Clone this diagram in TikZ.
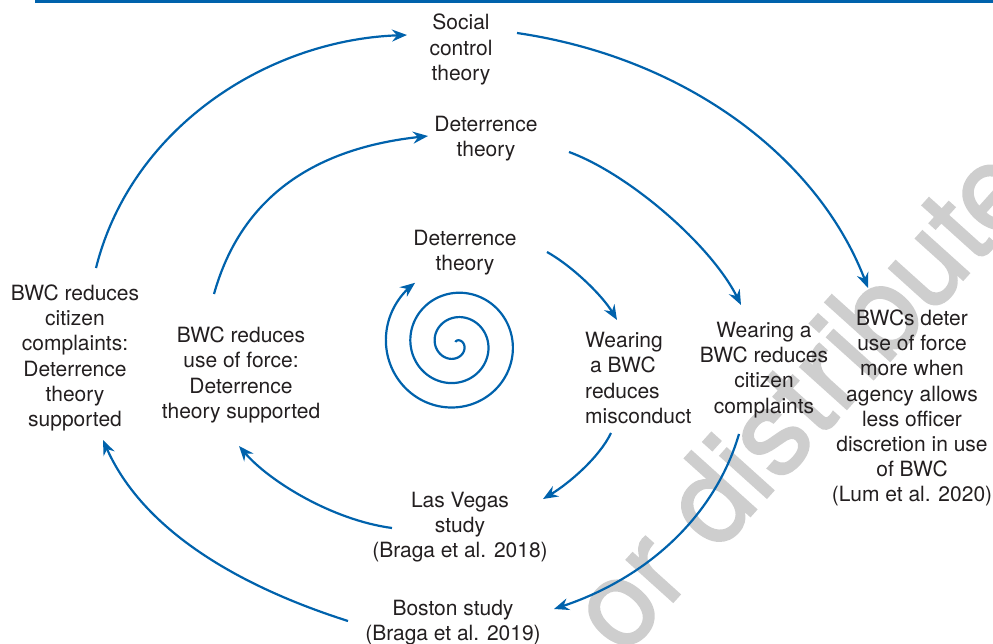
\documentclass[tikz,border=0pt]{standalone}
\usepackage{fontspec}
\setmainfont{TeX Gyre Heros}
\newfontfamily\markfont[FakeBold=1.5]{TeX Gyre Heros}
\usetikzlibrary{arrows.meta}
\definecolor{flowblue}{RGB}{0,98,172}
\definecolor{inkgray}{RGB}{35,31,32}
\definecolor{markgray}{RGB}{206,206,206}
\begin{document}
\begin{tikzpicture}[x=1pt,y=-1pt,
  txt/.style={inner sep=0pt, align=center, text=inkgray, font=\fontsize{21}{25.2}\selectfont},
  flow/.style={flowblue, line width=2.2pt, -{Stealth[length=15pt,width=12pt,inset=5pt]}},
]
\useasboundingbox (0,0) rectangle (993,644);
\clip (0,0) rectangle (993,644);

% watermark behind everything
\node[rotate=48, text=markgray, inner sep=0pt, font=\markfont\fontsize{120}{120}\selectfont] (mark) at (800,397) {or distribute};

% rule along the top
\draw[flowblue, line width=3.5pt] (35,1.75) -- (993,1.75);

% text blocks
\node[txt] (social) at (461,49.5) {Social\\control\\theory};
\node[txt] (detA) at (486,139) {Deterrence\\theory};
\node[txt] (detB) at (465,253) {Deterrence\\theory};
\node[txt, align=left, anchor=west] (misc) at (585,378) {Wearing\\\hspace{5pt}a BWC\\reduces\\misconduct};
\node[txt] (compl) at (764,370) {Wearing a\\BWC reduces\\citizen\\complaints};
\node[txt] (lum) at (912,408) {BWCs deter\\use of force\\more when\\agency allows\\less officer\\discretion in use\\of BWC\\(Lum et al. 2020)};
\node[txt] (lout) at (75,358) {BWC reduces\\citizen\\complaints:\\Deterrence\\theory\\supported};
\node[txt] (lin) at (241,375) {BWC reduces\\use of force:\\Deterrence\\theory supported};
\node[txt] (lv) at (460,527) {Las Vegas\\study\\(Braga et al. 2018)};
\node[txt] (bos) at (453,622.5) {Boston study\\(Braga et al. 2019)};

% outer loop
\draw[flow] ([shift={(21,-90)}]lout.center) .. controls +(35,-140) and +(-140,5) .. ([shift={(-54,-14.5)}]social.center);
\draw[flow] ([shift={(56,-16.5)}]social.center) .. controls +(170,25) and +(-50,-130) .. ([shift={(-44,-120)}]lum.center);
\draw[flow] ([shift={(-25,64)}]compl.center) .. controls +(-25,85) and +(90,-30) .. ([shift={(101,-13.5)}]bos.center);
\draw[flow] ([shift={(-105,-1.5)}]bos.center) .. controls +(-110,-35) and +(40,90) .. ([shift={(28,82)}]lout.center);

% middle loop
\draw[flow] ([shift={(-27,-81)}]lin.center) .. controls +(28,-100) and +(-110,12) .. ([shift={(-58,-3)}]detA.center);
\draw[flow] ([shift={(83,13)}]detA.center) .. controls +(60,22) and +(-30,-60) .. ([shift={(-23,-65)}]compl.center);

% inner loop
\draw[flow] ([shift={(82,-1)}]detB.center) .. controls +(25,14) and +(-15,-25) .. ([shift={(32,-58)}]misc.west);
\draw[flow] ([shift={(26,55)}]misc.west) .. controls +(-12,25) and +(25,-15) .. ([shift={(83,-28)}]lv.center);
\draw[flow] ([shift={(-68,1)}]lv.center) .. controls +(-60,-8) and +(30,35) .. ([shift={(-2,71)}]lin.center);

% spiral
\draw[flow] plot[domain=-1.6:16.7, samples=400, variable=\t]
  ({455.5+(8.25+3.9*\t)*cos(\t r)}, {344+(8.25+3.9*\t)*sin(\t r)});
\end{tikzpicture}
\end{document}
